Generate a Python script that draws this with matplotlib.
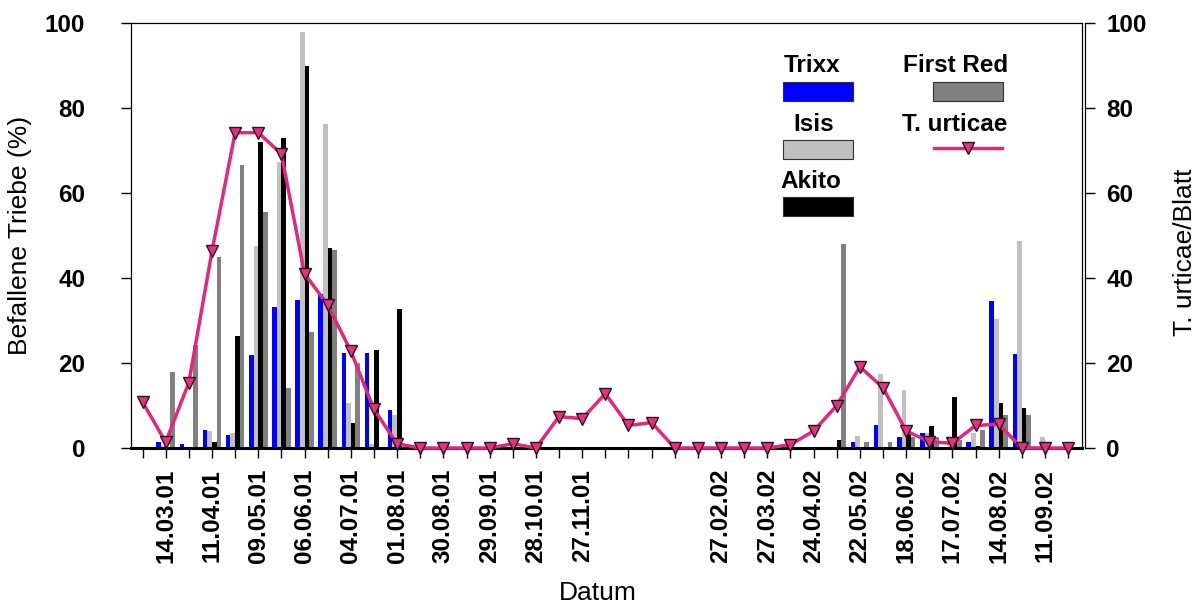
import numpy as np
import matplotlib.pyplot as plt
from matplotlib.patches import Rectangle
from matplotlib.lines import Line2D

plt.rcParams['font.family'] = ['Liberation Sans', 'DejaVu Sans']
plt.rcParams['font.weight'] = 'bold'

# Probenahmetermine (jeder zweite beschriftet)
dates = ['', '14.03.01', '', '11.04.01', '', '09.05.01', '', '06.06.01', '', '04.07.01',
         '', '01.08.01', '', '30.08.01', '', '29.09.01', '', '28.10.01', '', '27.11.01',
         '', '', '', '', '', '27.02.02', '', '27.03.02', '', '24.04.02',
         '', '22.05.02', '', '18.06.02', '', '17.07.02', '', '14.08.02', '', '11.09.02', '']

# befallene Triebe (%) je Sorte
trixx = [0, 1.4, 1.0, 4.3, 3.1, 22.0, 33.2, 34.8, 36.2, 22.3,
         22.3, 9.0, 0, 0, 0, 0, 0, 0, 0, 0,
         0, 0, 0, 0, 0, 0, 0, 0, 0, 0,
         0, 1.4, 5.3, 2.7, 3.5, 0, 1.3, 34.5, 22.1, 0, 0]
isis = [0, 0.5, 0, 3.9, 3.5, 47.5, 67.4, 97.9, 76.3, 10.7,
        1.0, 7.7, 0, 0, 0, 0, 0, 0, 0, 0,
        0, 0, 0, 0, 0, 0, 0, 0, 0, 0,
        0, 2.8, 17.5, 13.7, 3.5, 1.0, 3.5, 30.3, 48.8, 2.6, 0]
akito = [0, 0, 0, 1.3, 26.3, 72.1, 72.9, 89.8, 47.1, 6.0,
         23.0, 32.6, 0, 0, 0, 0, 0, 0, 0, 0,
         0, 0, 0, 0, 0, 0, 0, 0, 0, 0,
         1.8, 0, 0, 3.4, 5.2, 12.0, 0.5, 10.7, 9.4, 0, 0]
first_red = [0, 17.8, 24.2, 45.0, 66.6, 55.6, 14.1, 27.2, 46.7, 20.0,
             0, 0, 0, 0, 0, 0, 0, 0, 0, 0,
             0, 0, 0, 0, 0, 0, 0, 0, 0, 0,
             48.0, 1.4, 1.4, 2.6, 2.6, 1.8, 4.3, 7.7, 7.7, 0, 0]

# T. urticae pro Blatt
urticae = [10.8, 1.4, 15.4, 46.3, 74.2, 74.2, 69.2, 41.0, 33.7, 22.8,
           9.1, 1.0, 0, 0, 0, 0, 1.0, 0, 7.4, 6.9,
           12.8, 5.3, 6.0, 0, 0, 0, 0, 0, 0.8, 4.0,
           10.0, 19.1, 14.2, 4.0, 1.5, 1.1, 5.3, 5.6, 0, 0, 0]

sorten = ['Trixx', 'Isis', 'Akito', 'First Red']
farben = ['#0000ff', '#c0c0c0', '#000000', '#808080']
pink = '#e4267f'

W, H = 1198, 605
fig = plt.figure(figsize=(W / 100, H / 100), dpi=100)
ax = fig.add_axes([131 / W, 1 - 448 / H, 951 / W, 425 / H])

x = np.arange(len(dates))
w = 0.2
for k, (werte, farbe) in enumerate(zip([trixx, isis, akito, first_red], farben)):
    ax.bar(x + (k - 1.5) * w, werte, w, color=farbe, linewidth=0)

ax.set_xlim(-0.5, 40.6)
ax.set_ylim(0, 100)
ax.set_xticks(x)
ax.set_xticklabels(dates, rotation=90)
ax.set_yticks(range(0, 101, 20))
ax.tick_params(axis='both', labelsize=17.5)
ax.tick_params(axis='x', direction='out', length=7, width=1, pad=8)
ax.tick_params(axis='y', direction='out', length=7, width=1, pad=26)
ax.spines['bottom'].set_linewidth(2.2)
for s in ['top', 'left', 'right']:
    ax.spines[s].set_linewidth(0.9)

ax.set_ylabel('Befallene Triebe (%)', fontsize=19, fontweight='normal')
ax.yaxis.set_label_coords(-0.104, 0.5)
ax.set_xlabel('Datum', fontsize=19, fontweight='normal')
ax.xaxis.set_label_coords(0.491, -0.314)

ax2 = ax.twinx()
ax2.plot(x, urticae, color=pink, lw=2.5, marker='v', ms=8,
         mfc='#e2337f', mec='#30101c', mew=1, clip_on=False)
ax2.set_ylim(0, 100)
ax2.set_yticks(range(0, 101, 20))
ax2.tick_params(axis='y', direction='out', length=7, width=1, pad=8, labelsize=17.5)
ax2.spines['right'].set_position(('outward', 2.5))
ax2.spines['right'].set_linewidth(0.9)
for s in ['top', 'left', 'bottom']:
    ax2.spines[s].set_visible(False)
ax2.set_ylabel('T. urticae/Blatt', fontsize=19, fontweight='normal')
ax2.yaxis.set_label_coords(1.096, 0.46)


# Legende von Hand (Text über dem Symbol)
def px(xp, yp):
    return xp / W, 1 - yp / H


leg = [('Trixx', 812, 71.7, farben[0], 82), ('Isis', 813.5, 130.7, farben[1], 140),
       ('Akito', 811, 188.3, farben[2], 197), ('First Red', 956, 71.7, farben[3], 82)]
for name, tx, ty, farbe, ry in leg:
    fig.text(*px(tx, ty), name, ha='center', va='baseline', fontsize=17.5, fontweight='bold')
    x0 = 783 if name != 'First Red' else 933
    fig.add_artist(Rectangle(px(x0, ry + 18.5), 70 / W, 18.5 / H, transform=fig.transFigure,
                             facecolor=farbe, edgecolor='#303030', linewidth=0.8))
fig.text(*px(955, 130.7), 'T. urticae', ha='center', va='baseline', fontsize=17.5, fontweight='bold')
fig.add_artist(Line2D([934 / W, 1002 / W], [1 - 148.3 / H] * 2, transform=fig.transFigure,
                      color=pink, lw=2.5))
fig.add_artist(Line2D([968.3 / W], [1 - 148.3 / H], transform=fig.transFigure,
                      marker='v', ms=8, mfc='#e2337f', mec='#30101c', mew=1, lw=0))

fig.savefig('out.png', dpi=100)
